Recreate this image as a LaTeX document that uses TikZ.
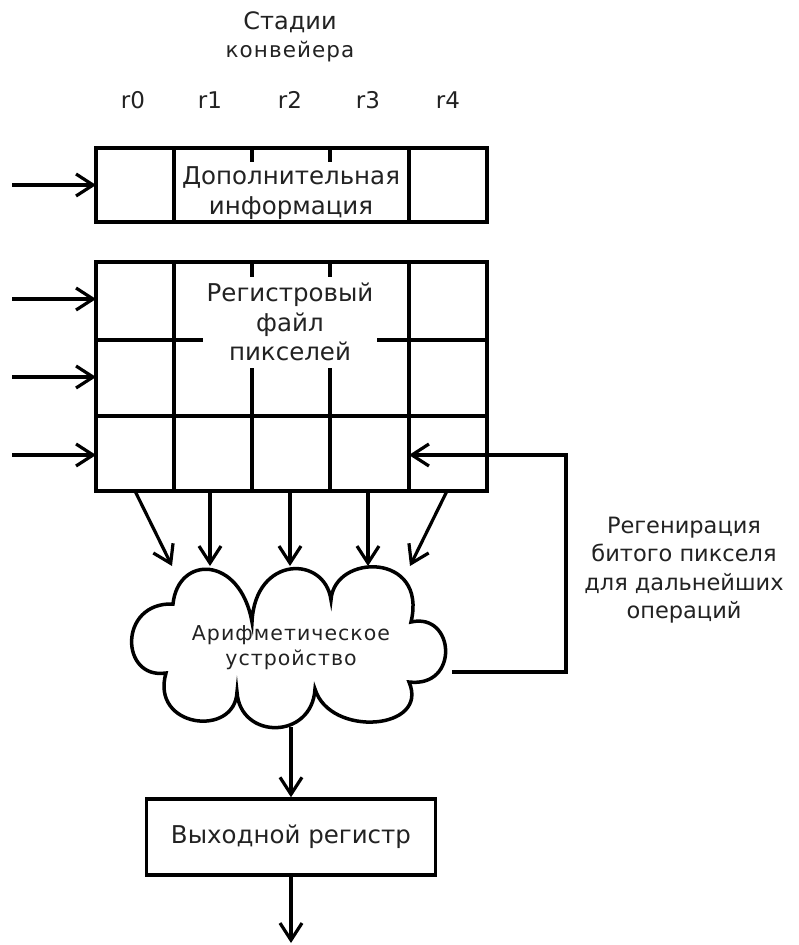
\documentclass[tikz,border=0pt]{standalone}
\usepackage{fontspec}
\setmainfont{DejaVu Sans}
\newfontfamily\spacedfont[LetterSpace=5]{DejaVu Sans}
\usetikzlibrary{arrows.meta}
\definecolor{txt}{HTML}{222222}
\begin{document}
\begin{tikzpicture}[x=1pt,y=-1pt,line width=3.5pt,line join=miter,
  lbl/.style={text=txt,align=center,inner sep=0pt},
  fA/.style={font=\fontsize{24.5}{30}\selectfont},
  fB/.style={font=\fontsize{24.5}{29.5}\selectfont},
  fF/.style={font=\fontsize{22.5}{28.5}\selectfont},
  fC/.style={font=\spacedfont\fontsize{20.5}{25}\selectfont},
  fH/.style={font=\fontsize{24}{28}\selectfont},
  fK/.style={font=\spacedfont\fontsize{21.5}{26}\selectfont},
  fR/.style={font=\fontsize{23}{26}\selectfont},
  arr/.style={-{Straight Barb[length=17pt,width=22pt,line width=3.2pt]},line width=3.2pt},
  outbox/.style={draw,line width=3.5pt,minimum width=289pt,minimum height=76pt,inner sep=0pt}]
\useasboundingbox (0,0) rectangle (798,945);

% header
\node[lbl,fH] (hdr1) at (290,22) {Стадии};
\node[lbl,fK] (hdr2) at (290,52) {конвейера};
\foreach \i/\x in {0/133,1/210,2/290,3/368,4/448}
  \node[lbl,fR] (r\i) at (\x,100) {r\i};

% top box (additional info)
\draw (96,148) rectangle (487,222);
\draw (174,148) -- (174,222) (409,148) -- (409,222);
\draw (252,148) -- (252,162) (330,148) -- (330,162);
\node[lbl,fA] (info) at (291,193) {Дополнительная\\информация};
\coordinate (infoL) at (96,185);
\coordinate (in0) at (12,185);

% register file grid
\draw (96,262) rectangle (487,491);
\draw (174,262) -- (174,491) (409,262) -- (409,491);
\draw (252,262) -- (252,277) (330,262) -- (330,277);
\draw (96,340) -- (203,340) (377,340) -- (487,340);
\draw (96,416) -- (487,416);
\draw (252,368) -- (252,491) (330,368) -- (330,491);
\node[lbl,fB] (regf) at (290,322) {Регистровый\\файл\\пикселей};

\coordinate (row1) at (96,299);
\coordinate (row2) at (96,377);
\coordinate (row3) at (96,455);
\coordinate (in1) at (12,299);
\coordinate (in2) at (12,377);
\coordinate (in3) at (12,455);
\coordinate (fbEnd) at (409,455);

% inputs
\draw[arr] (in0) -- (infoL);
\draw[arr] (in1) -- (row1);
\draw[arr] (in2) -- (row2);
\draw[arr] (in3) -- (row3);

% cloud (arithmetic unit)
\draw (173,604)
  .. controls (178,555) and (240,555) .. (252,622)
  .. controls (255,555) and (325,555) .. (331,600)
  .. controls (334,553) and (428,552) .. (411,622)
  .. controls (455,612) and (460,688) .. (409,682)
  .. controls (430,730) and (330,738) .. (315,689)
  .. controls (312,740) and (240,740) .. (237,692)
  .. controls (235,738) and (150,728) .. (166,673)
  .. controls (120,680) and (118,602) .. cycle;
\node[lbl,fC] (alu) at (291,648) {Арифметическое\\устройство};
\coordinate (aluR) at (452,672);
\coordinate (aluB) at (291,727);
\coordinate (fbC) at (566,672);

% grid -> cloud arrows
\foreach \i/\xa/\xb in {0/135/172,1/210/210,2/290/290,3/368/368,4/447/410}{
  \coordinate (gb\i) at (\xa,491);
  \coordinate (ct\i) at (\xb,566);
  \draw[arr] (gb\i) -- (ct\i);
}

% feedback
\draw[arr] (aluR) -- (fbC) |- (fbEnd);
\node[lbl,fF] (fbl) at (684,570) {Регенирация\\битого пикселя\\для дальнейших\\операций};

% output register
\node[outbox,lbl,fA] (out) at (291,837) {Выходной регистр};
\coordinate (outEnd) at (291,943);
\draw[arr] (aluB) -- (out.north);
\draw[arr] (out.south) -- (outEnd);
\end{tikzpicture}
\end{document}
